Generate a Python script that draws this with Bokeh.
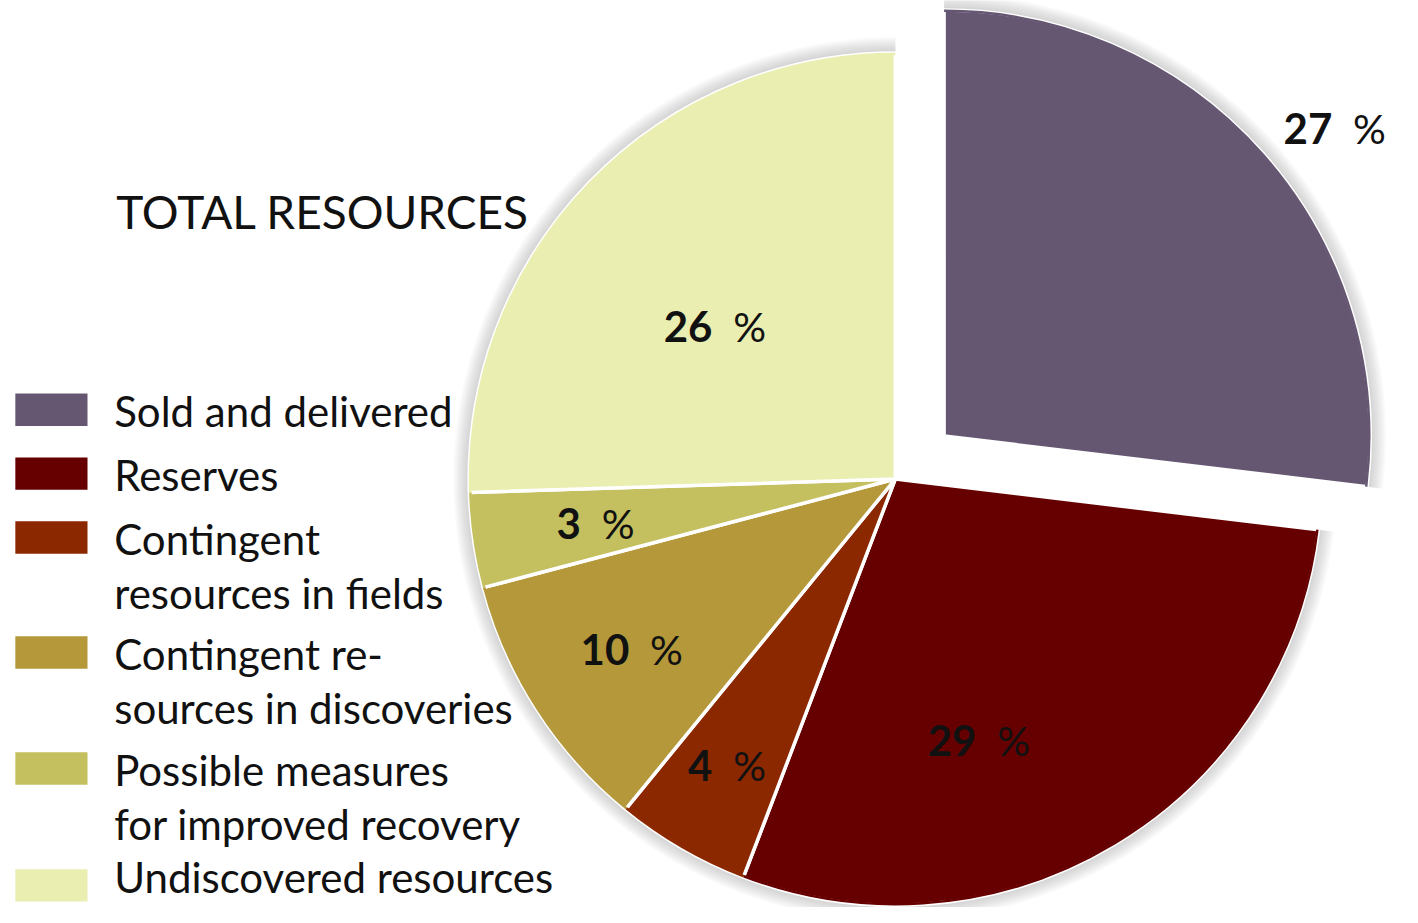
import math
from bokeh.plotting import figure
from bokeh.models import Range1d, ColumnDataSource
from bokeh.core.properties import value
from bokeh.embed import file_html
from bokeh.resources import INLINE

# ---- data ----
categories = ["Sold and delivered", "Reserves", "Contingent resources in fields",
              "Contingent resources in discoveries", "Possible measures for improved recovery",
              "Undiscovered resources"]
shares = [26.9, 28.9, 5.1, 10.0, 3.6, 25.5]
pct_labels = ["27", "29", "4", "10", "3", "26"]
legend_lines = [["Sold and delivered"], ["Reserves"], ["Contingent", "resources in fields"],
                ["Contingent re-", "sources in discoveries"],
                ["Possible measures", "for improved recovery"], ["Undiscovered resources"]]
colors = ["#655772", "#660000", "#8C2800", "#B4983A", "#C4C05F", "#EAEEB0"]
title = "TOTAL RESOURCES"

FONT = "Lato"
W, H = 1418, 923  # reference-pixel space; data y = H - pixel y
TXT_SHIFT = 15    # compensates baseline placement of svg text

p = figure(width=1402, height=907, output_backend="svg", toolbar_location=None,
           x_range=Range1d(0, W), y_range=Range1d(0, H), min_border=0)
p.axis.visible = False
p.grid.visible = False
p.outline_line_color = None
p.background_fill_color = "white"

# ---- pie geometry ----
cx, cy = 905, H - 487
R = 431
explode = 66
total = sum(shares)
starts, ends, mids = [], [], []
cum = 0.0
for s in shares:
    a0 = 90 - (cum + s) / total * 360
    a1 = 90 - cum / total * 360
    starts.append(math.radians(a0)); ends.append(math.radians(a1)); mids.append(math.radians((a0 + a1) / 2))
    cum += s
xs = [cx + (explode * math.cos(mids[i]) if i == 0 else 0) for i in range(len(shares))]
ys = [cy + (explode * math.sin(mids[i]) if i == 0 else 0) for i in range(len(shares))]

# soft shadow / glow
for k in range(10, 0, -1):
    p.wedge(x=xs, y=ys, radius=R + k * 1.6, start_angle=starts, end_angle=ends,
            fill_color="#777777", fill_alpha=0.04, line_color=None)

src = ColumnDataSource(dict(x=xs, y=ys, start=starts, end=ends, color=colors))
p.wedge(x="x", y="y", radius=R, start_angle="start", end_angle="end", source=src,
        fill_color="color", line_color="white", line_width=3.5)
p.arc(x="x", y="y", radius=R - 1, start_angle="start", end_angle="end", source=src,
      line_color="color", line_width=2.5)

# ---- percent labels (x = right edge of number, y = baseline, reference pixels) ----
lab_x = [1347, 987, 720, 636, 587, 720]
lab_y = [145, 768, 793, 675, 547, 347]
num_src = ColumnDataSource(dict(x=lab_x, y=[H - v + TXT_SHIFT for v in lab_y], t=pct_labels))
pc_src = ColumnDataSource(dict(x=[v + 21 for v in lab_x], y=[H - v + TXT_SHIFT for v in lab_y],
                               t=["%"] * len(pct_labels)))
p.text(x="x", y="y", text="t", source=num_src, text_font=value(FONT), text_font_style="bold",
       text_font_size="42px", text_align="right", text_baseline="alphabetic", text_color="#111111")
p.text(x="x", y="y", text="t", source=pc_src, text_font=value(FONT), text_font_style="normal",
       text_font_size="41px", text_align="left", text_baseline="alphabetic", text_color="#111111")

# ---- title ----
p.text(x=[117], y=[H - 230 + TXT_SHIFT], text=[title], text_font=value(FONT), text_font_size="46px",
       text_align="left", text_baseline="alphabetic", text_color="#111111")

# ---- legend ----
sw_top = [400, 465, 530, 647, 765, 884]
sw_h = 33
p.quad(left=[15] * 6, right=[88] * 6, top=[H - t for t in sw_top],
       bottom=[H - t - sw_h for t in sw_top], fill_color=colors, line_color=None)
line_gap = 55
tx, ty, tt = [], [], []
for i, lines in enumerate(legend_lines):
    base = min(sw_top[i] + 32, 906)
    for j, ln in enumerate(lines):
        tx.append(115); ty.append(H - (base + j * line_gap) + TXT_SHIFT - 1); tt.append(ln)
p.text(x=tx, y=ty, text=tt, text_font=value(FONT), text_font_size="42px",
       text_align="left", text_baseline="alphabetic", text_color="#111111")

open("out.html", "w").write(file_html(p, INLINE))
